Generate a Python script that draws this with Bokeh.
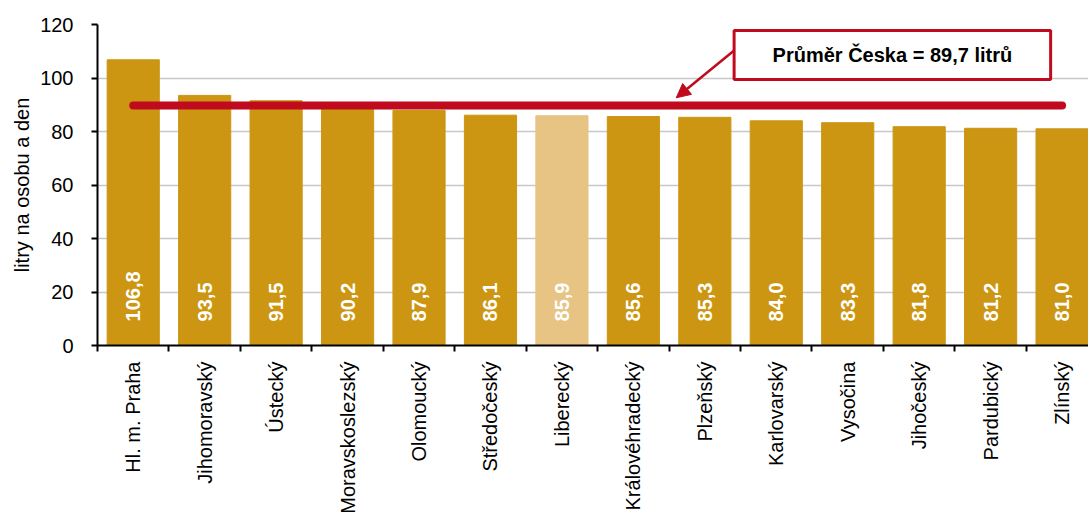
import math
from bokeh.plotting import figure
from bokeh.models import (ColumnDataSource, Range1d, FixedTicker, LabelSet, Label,
                          BoxAnnotation, Arrow, NormalHead)
from bokeh.core.properties import value
from bokeh.embed import file_html
from bokeh.resources import INLINE

regions = ["Hl. m. Praha", "Jihomoravský", "Ústecký", "Moravskoslezský", "Olomoucký",
           "Středočeský", "Liberecký", "Královéhradecký", "Plzeňský", "Karlovarský",
           "Vysočina", "Jihočeský", "Pardubický", "Zlínský"]
values = [106.8, 93.5, 91.5, 90.2, 87.9, 86.1, 85.9, 85.6, 85.3, 84.0, 83.3, 81.8, 81.2, 81.0]
highlight = "Liberecký"
average = 89.7
avg_text = "Průměr Česka = 89,7 litrů"
y_label = "litry na osobu a den"
y_ticks = [0, 20, 40, 60, 80, 100, 120]

GOLD = "#CC9613"
LIGHT = "#E7C384"
RED = "#C00A1E"
FONT = "Liberation Sans"

idx = list(range(len(regions)))
colors = [LIGHT if r == highlight else GOLD for r in regions]
labels = [f"{v:.1f}".replace(".", ",") for v in values]

src = ColumnDataSource(dict(x=idx, top=values, color=colors, lab=labels,
                            ylab=[9] * len(idx)))

p = figure(width=1088, height=516, output_backend="svg", toolbar_location=None,
           x_range=Range1d(-0.5, 13.37), y_range=Range1d(0, 120),
           min_border_left=97, min_border_right=0, min_border_top=24, min_border_bottom=10)
p.outline_line_color = None
p.xgrid.grid_line_color = None
p.ygrid.grid_line_color = "#C8C8C8"
p.ygrid.grid_line_width = 1.5
p.ygrid.ticker = FixedTicker(ticks=y_ticks)

p.vbar(x="x", top="top", bottom=0, width=0.73, color="color", source=src)

# value labels inside bars
p.add_layout(LabelSet(x="x", y="ylab", text="lab", source=src, angle=math.pi / 2,
                      text_align="left", text_baseline="middle", text_color="white",
                      text_font=value(FONT), text_font_size="20px", text_font_style="bold"))

# average line
p.line(x=[idx[0], idx[-1]], y=[average, average], line_color=RED, line_width=8,
       line_cap="round")

# callout
p.add_layout(BoxAnnotation(left=8.41, right=12.84, bottom=99.4, top=117.8,
                           fill_color="white", fill_alpha=1, line_color=RED,
                           line_alpha=1, line_width=3))
p.add_layout(Label(x=10.625, y=108.6, text=avg_text, text_align="center",
                   text_baseline="middle", text_font=FONT, text_font_size="20px",
                   text_font_style="bold", text_color="black"))
p.add_layout(Arrow(x_start=8.41, y_start=110.3, x_end=7.60, y_end=92.6,
                   line_color=RED, line_width=2.5,
                   end=NormalHead(size=14, fill_color=RED, line_color=RED)))

# x axis: names at bar centres, tick marks at category boundaries (minor ticks)
p.xaxis.ticker = FixedTicker(ticks=idx,
                             minor_ticks=[i - 0.5 for i in range(len(regions) + 1)])
p.xaxis.major_label_overrides = {i: r for i, r in zip(idx, regions)}
p.xaxis.major_label_orientation = math.pi / 2
p.xaxis.major_label_text_font = FONT
p.xaxis.major_label_text_font_size = "20px"
p.xaxis.major_label_text_color = "black"
p.xaxis.major_label_standoff = 10
p.xaxis.axis_line_color = "black"
p.xaxis.axis_line_width = 2
p.xaxis.major_tick_line_color = None
p.xaxis.major_tick_in = 0
p.xaxis.major_tick_out = 0
p.xaxis.minor_tick_line_color = "black"
p.xaxis.minor_tick_line_width = 2
p.xaxis.minor_tick_in = 0
p.xaxis.minor_tick_out = 6

p.yaxis.ticker = FixedTicker(ticks=y_ticks)
p.yaxis.axis_line_color = "black"
p.yaxis.axis_line_width = 2
p.yaxis.major_tick_line_width = 2
p.yaxis.major_tick_in = 0
p.yaxis.major_tick_out = 6
p.yaxis.minor_tick_line_color = None
p.yaxis.major_label_text_font = FONT
p.yaxis.major_label_text_font_size = "20px"
p.yaxis.major_label_text_color = "black"
p.yaxis.major_label_standoff = 18
p.yaxis.axis_label = y_label
p.yaxis.axis_label_text_font = FONT
p.yaxis.axis_label_text_font_size = "20px"
p.yaxis.axis_label_text_font_style = "normal"
p.yaxis.axis_label_text_color = "black"
p.yaxis.axis_label_standoff = 4

open("out.html", "w").write(file_html(p, INLINE))
